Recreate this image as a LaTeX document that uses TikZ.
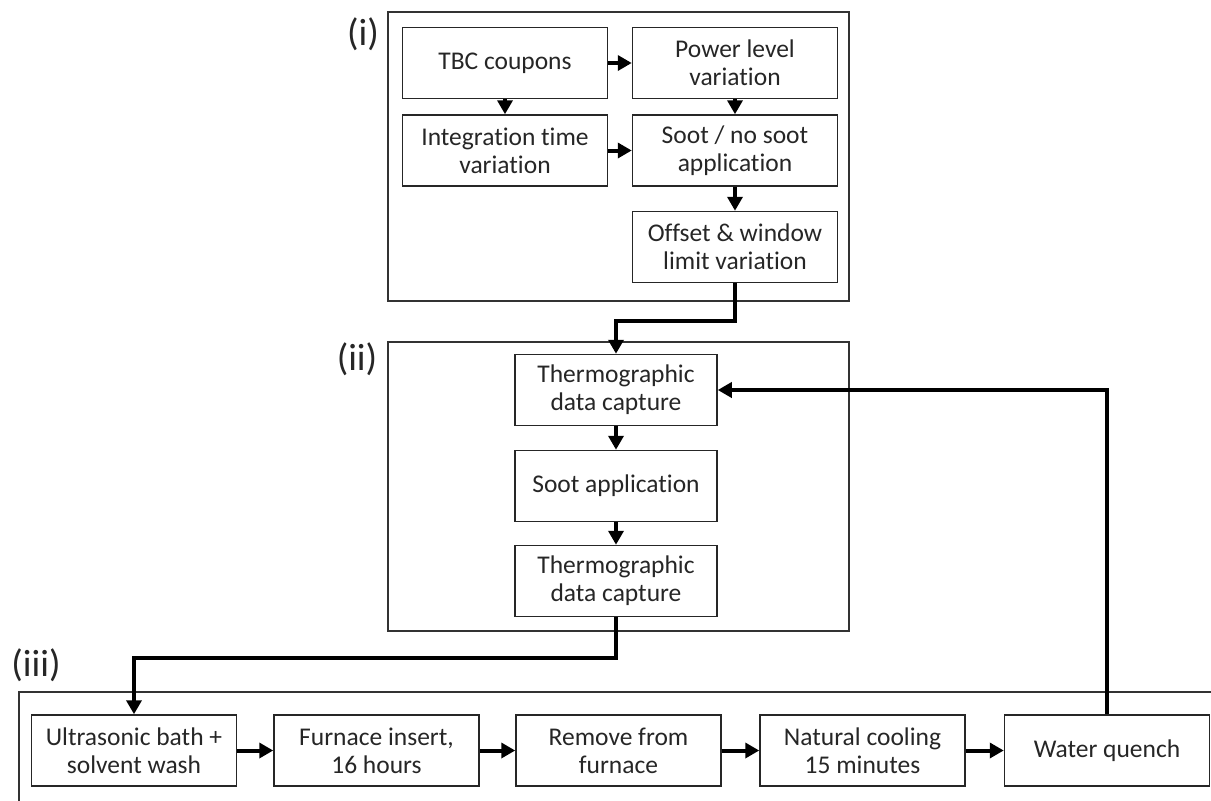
\documentclass[tikz,border=0pt]{standalone}
\usepackage{fontspec}
\setmainfont{Carlito}[Ligatures={NoCommon}]
\usetikzlibrary{arrows.meta}
\begin{document}
\begin{tikzpicture}[x=1pt,y=-1pt,
  stepbox/.style={draw=black!85, line width=1.5pt, minimum width=205pt, minimum height=71pt,
    align=center, inner sep=2pt, text=black!85, font=\fontsize{25.5}{28}\selectfont},
  frame/.style={draw=black!80, line width=1.4pt},
  tag/.style={font=\fontsize{38}{40}\selectfont, text=black!85},
  conn/.style={line width=4pt, draw=black, -{Triangle[length=14pt,width=15pt]}}]
\useasboundingbox (0,0) rectangle (1211,801);
\clip (0,0) rectangle (1211,801);
% frames
\draw[frame] (388,12) rectangle (849,301);
\draw[frame] (388,342) rectangle (849,631);
\draw[frame] (19,692) rectangle (1260,840);
\node[tag] (ti) at (363,34) {(i)};
\node[tag] (tii) at (357,359) {(ii)};
\node[tag] (tiii) at (36,665) {(iii)};
% section (i)
\node[stepbox] (tbc) at (505,63) {TBC coupons};
\node[stepbox] (pow) at (735,63) {Power level\\variation};
\node[stepbox] (intg) at (505,150.5) {Integration time\\variation};
\node[stepbox] (soot) at (735,150.5) {Soot / no soot\\application};
\node[stepbox] (off) at (735,247) {Offset \& window\\limit variation};
% section (ii)
\node[stepbox, minimum width=202pt] (th1) at (616,390) {Thermographic\\data capture};
\node[stepbox, minimum width=202pt] (sa) at (616,486) {Soot application};
\node[stepbox, minimum width=202pt] (th2) at (616,581) {Thermographic\\data capture};
% section (iii)
\node[stepbox] (us) at (134,750.5) {Ultrasonic bath +\\solvent wash};
\node[stepbox] (fi) at (376.5,750.5) {Furnace insert,\\16 hours};
\node[stepbox] (rf) at (618.5,750.5) {Remove from\\furnace};
\node[stepbox] (nc) at (862.5,750.5) {Natural cooling\\15 minutes};
\node[stepbox] (wq) at (1107,750.5) {Water quench};
% connectors (i)
\draw[conn] (tbc) -- (pow);
\draw[conn] (tbc) -- (intg);
\draw[conn] (pow) -- (soot);
\draw[conn] (intg) -- (soot);
\draw[conn] (soot) -- (off);
\draw[conn] (off.south) -- ++(0,38) -| (th1.north);
% connectors (ii)
\draw[conn] (th1) -- (sa);
\draw[conn] (sa) -- (th2);
\draw[conn] (th2.south) -- ++(0,41) -| (us.north);
% connectors (iii)
\draw[conn] (us) -- (fi);
\draw[conn] (fi) -- (rf);
\draw[conn] (rf) -- (nc);
\draw[conn] (nc) -- (wq);
\draw[conn] (wq.north) |- (th1.east);
\end{tikzpicture}
\end{document}
